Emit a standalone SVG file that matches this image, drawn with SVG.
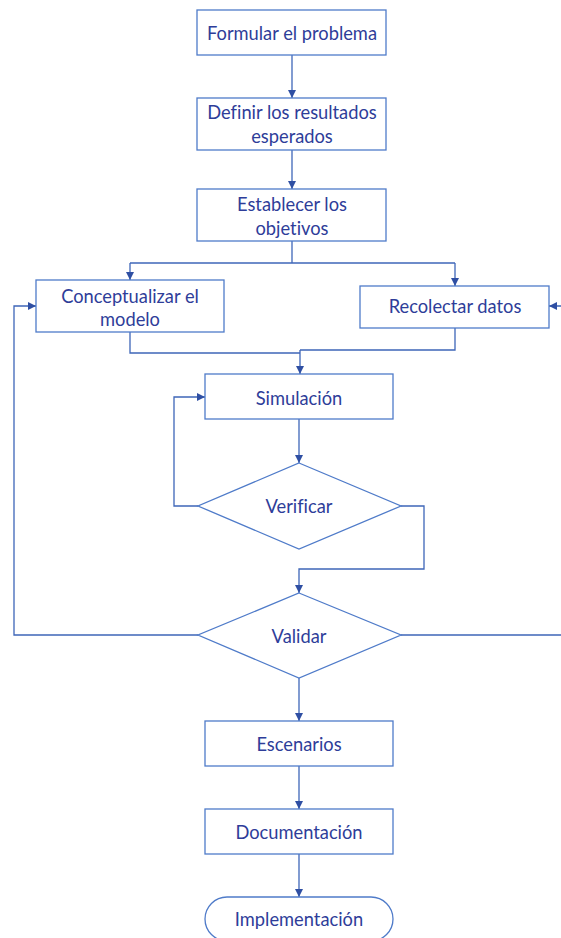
<svg xmlns="http://www.w3.org/2000/svg" width="561" height="938" viewBox="0 0 561 938">
<style>
.shape{fill:#fff;stroke:#4F7BC9;stroke-width:1.3}
.conn{fill:none;stroke:#3E66B8;stroke-width:1.3}
text{font-family:Lato,"Open Sans","Liberation Sans",sans-serif;font-size:18.3px;fill:#2E3D99;text-anchor:middle;dominant-baseline:central;font-variant-ligatures:none}
</style>
<defs>
<marker id="ah" viewBox="0 0 10 10" refX="10" refY="5" markerWidth="8" markerHeight="8" markerUnits="userSpaceOnUse" orient="auto">
<path d="M0,0 L10,5 L0,10 z" fill="#2F4FA3"/>
</marker>
</defs>
<rect width="561" height="938" fill="#fff"/>
<g id="connectors">
<path class="conn" d="M292,55 V98" marker-end="url(#ah)"/>
<path class="conn" d="M292,150 V189" marker-end="url(#ah)"/>
<path class="conn" d="M292,241 V263"/>
<path class="conn" d="M130,263 H455"/>
<path class="conn" d="M130,263 V280" marker-end="url(#ah)"/>
<path class="conn" d="M455,263 V286" marker-end="url(#ah)"/>
<path class="conn" d="M130,332 V353 H300"/>
<path class="conn" d="M455,328 V350 H300"/>
<path class="conn" d="M300,350 V374" marker-end="url(#ah)"/>
<path class="conn" d="M299,419 V463" marker-end="url(#ah)"/>
<path class="conn" d="M198,506 H174 V397 H205" marker-end="url(#ah)"/>
<path class="conn" d="M401,506 H424 V569 H299 V593" marker-end="url(#ah)"/>
<path class="conn" d="M198,635 H14 V306 H36" marker-end="url(#ah)"/>
<path class="conn" d="M401,635 H566 V306 H549" marker-end="url(#ah)"/>
<path class="conn" d="M299,678 V721" marker-end="url(#ah)"/>
<path class="conn" d="M299,766 V809" marker-end="url(#ah)"/>
<path class="conn" d="M299,854 V897" marker-end="url(#ah)"/>
</g>
<g id="formular"><rect class="shape" x="197" y="10" width="189" height="45"/><text x="292" y="33">Formular el problema</text></g>
<g id="definir"><rect class="shape" x="197" y="98" width="189" height="52"/><text x="292" y="112">Definir los resultados</text><text x="292" y="136">esperados</text></g>
<g id="establecer"><rect class="shape" x="197" y="189" width="189" height="52"/><text x="292" y="204">Establecer los</text><text x="292" y="228">objetivos</text></g>
<g id="conceptualizar"><rect class="shape" x="36" y="280" width="188" height="52"/><text x="130" y="296">Conceptualizar el</text><text x="130" y="319">modelo</text></g>
<g id="recolectar"><rect class="shape" x="360" y="286" width="189" height="42"/><text x="455" y="306">Recolectar datos</text></g>
<g id="simulacion"><rect class="shape" x="205" y="374" width="188" height="45"/><text x="299" y="398">Simulación</text></g>
<g id="verificar"><polygon class="shape" points="299,463 401,506 299,549 198,506"/><text x="299" y="506">Verificar</text></g>
<g id="validar"><polygon class="shape" points="299,593 401,635 299,678 198,635"/><text x="299" y="636">Validar</text></g>
<g id="escenarios"><rect class="shape" x="205" y="721" width="188" height="45"/><text x="299" y="744">Escenarios</text></g>
<g id="documentacion"><rect class="shape" x="205" y="809" width="188" height="45"/><text x="299" y="832">Documentación</text></g>
<g id="implementacion"><rect class="shape" x="205" y="897" width="188" height="44" rx="22"/><text x="299" y="919">Implementación</text></g>
</svg>
